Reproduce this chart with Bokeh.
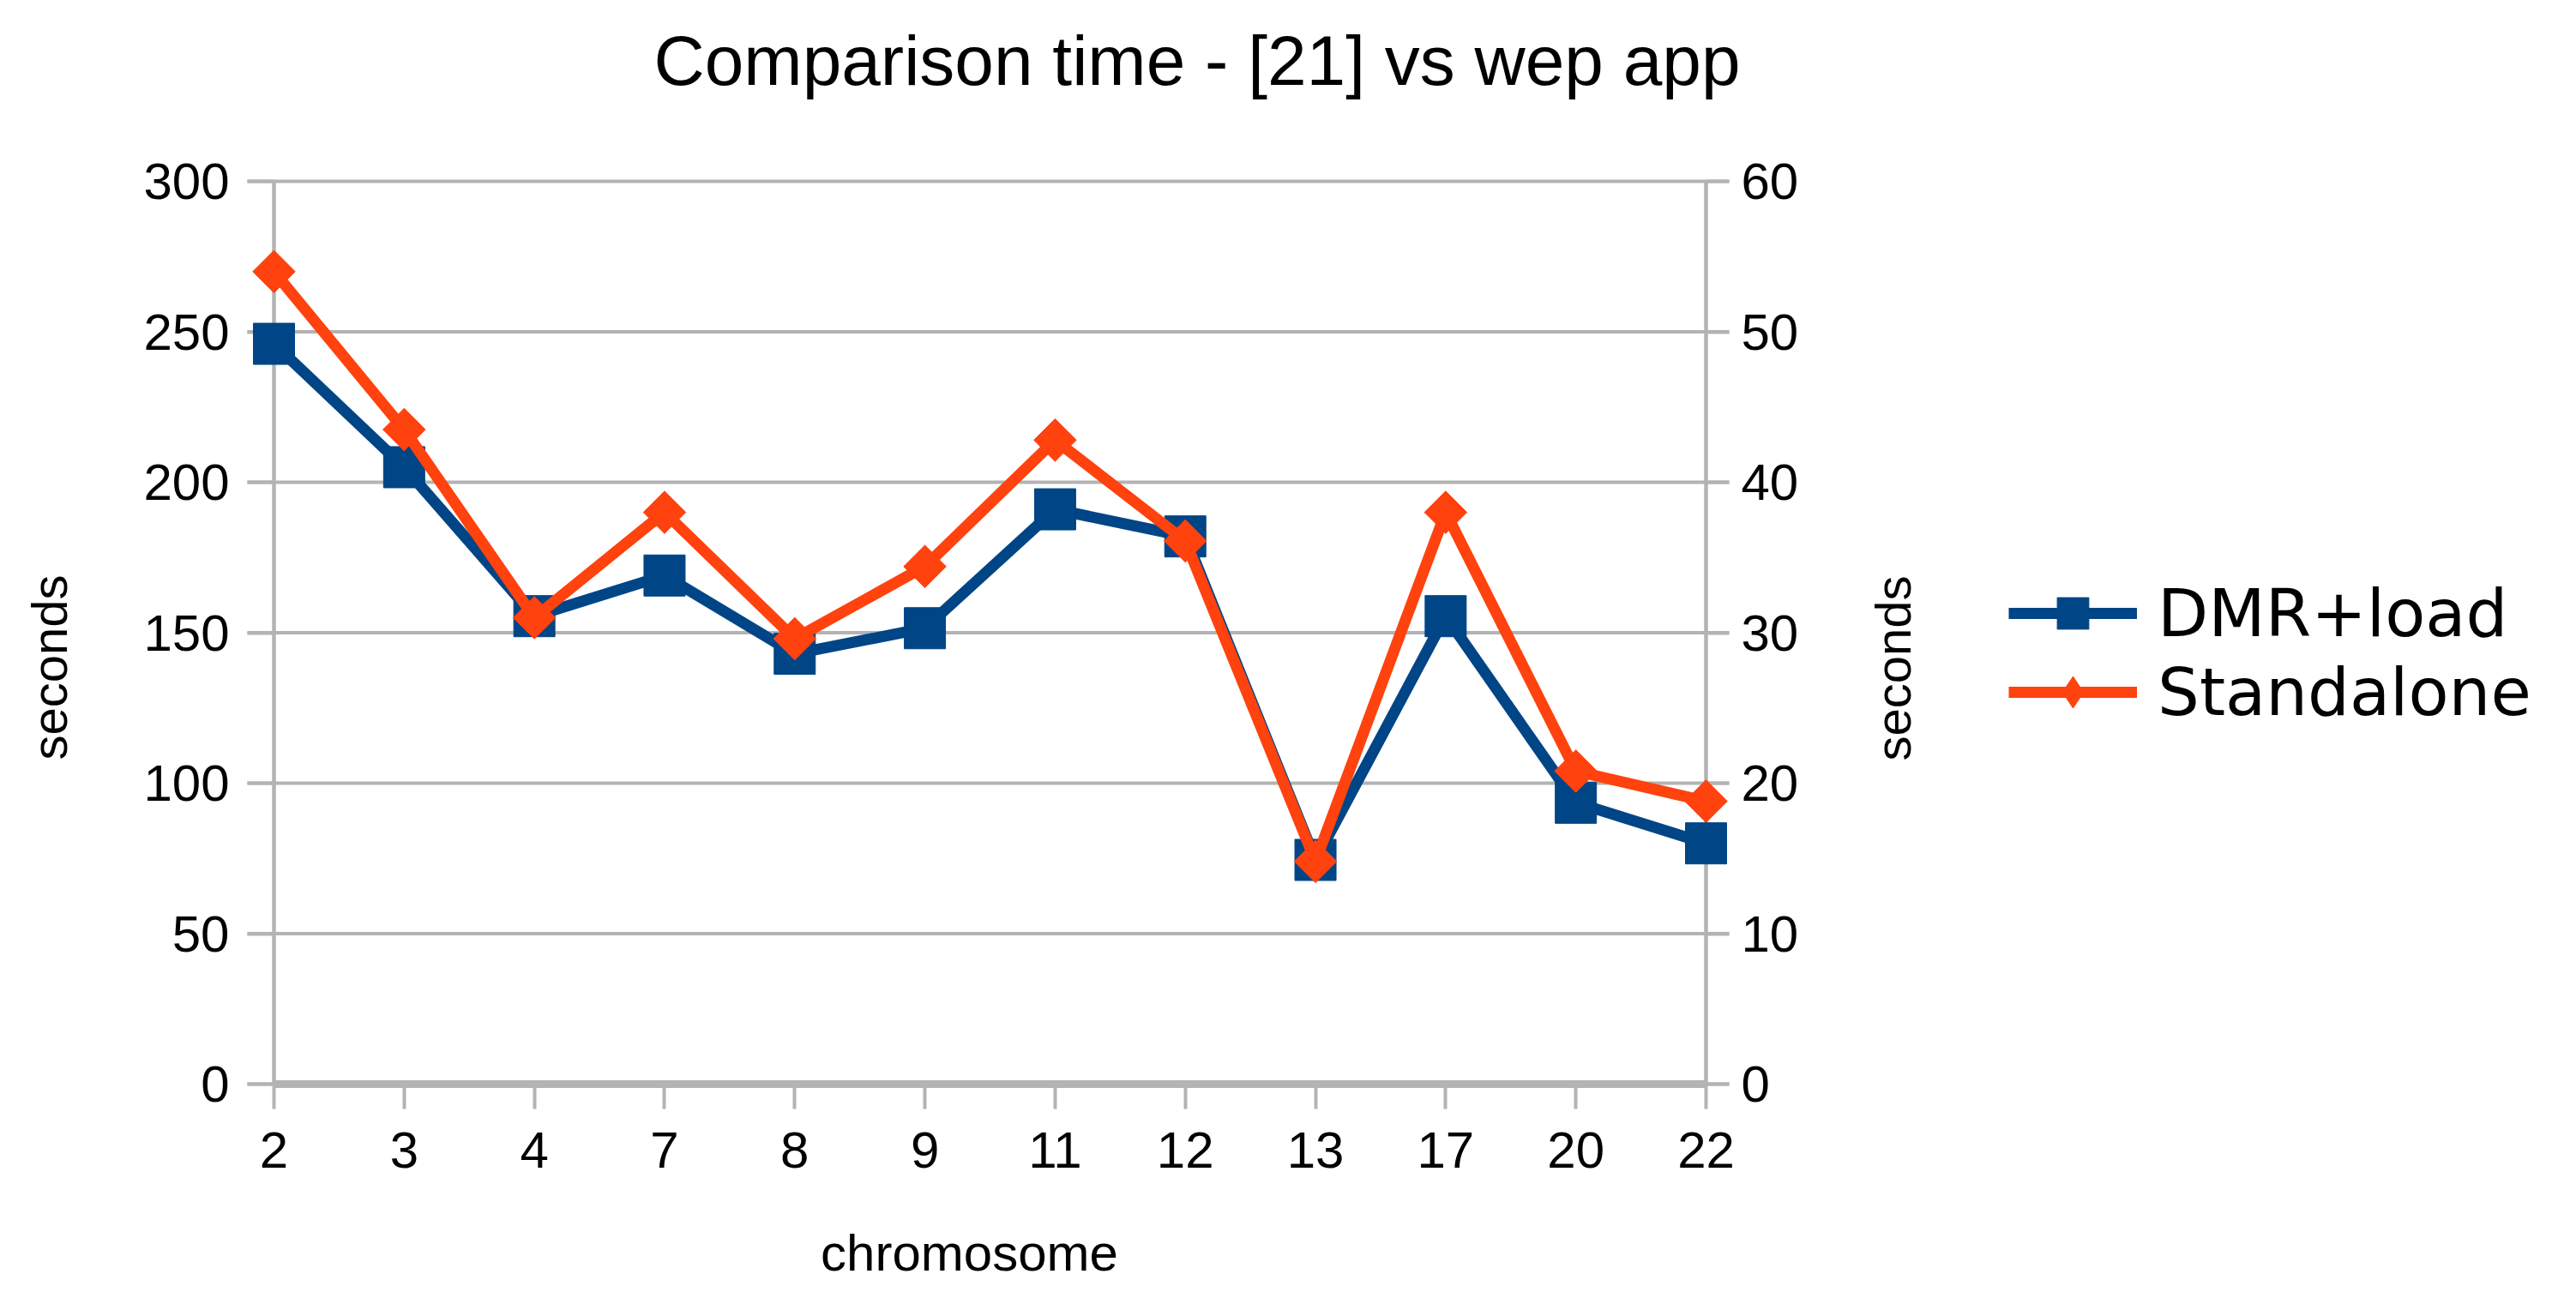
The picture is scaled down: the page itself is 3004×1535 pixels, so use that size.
import math
from bokeh.plotting import figure
from bokeh.models import (Range1d, LinearAxis, FixedTicker, Legend, LegendItem, Label)
from bokeh.embed import file_html
from bokeh.resources import INLINE

# ---- data ----
chromosomes = ["2", "3", "4", "7", "8", "9", "11", "12", "13", "17", "20", "22"]
dmr_load = [246, 205, 155.5, 169, 143, 151.5, 191, 182, 74.5, 155.5, 93.5, 80]
standalone = [54, 43.5, 31, 38, 29.6, 34.4, 42.8, 36.1, 14.8, 38, 20.8, 18.8]
left_ticks = [0, 50, 100, 150, 200, 250, 300]
right_ticks = [0, 10, 20, 30, 40, 50, 60]
title_text = "Comparison time - [21] vs wep app"
x_title = "chromosome"
y_title = "seconds"
series_names = ["DMR+load", "Standalone"]

BLUE = "#004586"
ORANGE = "#ff420e"
GRID = "#b3b3b3"
FONT = "Liberation Sans"

xs = list(range(len(chromosomes)))

# ---- layout (canvas pixels); the plotting area fills the whole canvas ----
W, H = 2990, 1528
AX_L, AX_R = 319, 1989          # columns of the two value axes
Y0, YTOP = 1264, 211            # rows of the 0 and 300 gridlines
TICK_L, TICK_R = 31, 27         # outside tick lengths
px_per_x = (AX_R - AX_L) / (xs[-1] - xs[0])
px_per_y = (Y0 - YTOP) / (left_ticks[-1] - left_ticks[0])
ratio = (right_ticks[-1] - right_ticks[0]) / (left_ticks[-1] - left_ticks[0])

x_lo = xs[0] - AX_L / px_per_x
x_hi = xs[-1] + (W - AX_R) / px_per_x
y_lo = left_ticks[0] - (H - Y0) / px_per_y
y_hi = left_ticks[-1] + YTOP / px_per_y

p = figure(width=W, height=H, output_backend="svg", toolbar_location=None, title=None,
           x_range=Range1d(x_lo, x_hi), y_range=Range1d(y_lo, y_hi),
           min_border_left=0, min_border_right=0, min_border_top=0, min_border_bottom=0,
           background_fill_color="white", border_fill_color="white",
           outline_line_color=None)
p.xaxis.visible = False
p.yaxis.visible = False
p.xgrid.visible = False
p.ygrid.visible = False
p.extra_y_ranges = {"right": Range1d(y_lo * ratio, y_hi * ratio)}

def style_axis(ax, width):
    ax.axis_line_color = GRID
    ax.axis_line_width = width
    ax.major_tick_line_color = GRID
    ax.major_tick_line_width = 4
    ax.minor_tick_line_color = None
    ax.major_tick_in = 0
    ax.major_label_text_font = FONT
    ax.major_label_text_font_size = "60px"
    ax.major_label_text_color = "black"
    ax.level = "underlay"

# horizontal gridlines between the outer tick ends
p.segment(x0=[xs[0] - TICK_L / px_per_x] * len(left_ticks),
          x1=[xs[-1] + TICK_R / px_per_x] * len(left_ticks),
          y0=left_ticks, y1=left_ticks, line_color=GRID, line_width=4)

xaxis = LinearAxis(ticker=FixedTicker(ticks=xs), bounds=(xs[0], xs[-1]),
                   fixed_location=left_ticks[0],
                   major_label_overrides={i: c for i, c in zip(xs, chromosomes)})
style_axis(xaxis, 9)
xaxis.major_tick_out = 29
xaxis.major_label_standoff = 27
p.add_layout(xaxis, "below")

yleft = LinearAxis(ticker=FixedTicker(ticks=left_ticks), bounds=(left_ticks[0], left_ticks[-1]),
                   fixed_location=xs[0])
style_axis(yleft, 4.5)
yleft.major_tick_out = TICK_L
yleft.major_label_standoff = 21
p.add_layout(yleft, "left")

yright = LinearAxis(y_range_name="right", ticker=FixedTicker(ticks=right_ticks),
                    bounds=(right_ticks[0], right_ticks[-1]), fixed_location=xs[-1])
style_axis(yright, 4.5)
yright.major_tick_out = TICK_R
yright.major_label_standoff = 14
p.add_layout(yright, "right")

# ---- series ----
l1 = p.line(xs, dmr_load, line_color=BLUE, line_width=13, line_join="miter")
m1 = p.scatter(xs, dmr_load, marker="square", size=48, fill_color=BLUE, line_color=BLUE)
l2 = p.line(xs, standalone, y_range_name="right", line_color=ORANGE, line_width=13,
            line_join="miter")
m2 = p.scatter(xs, standalone, y_range_name="right", marker="square", angle=math.pi / 4,
               size=35, fill_color=ORANGE, line_color=ORANGE)
m2d = p.scatter(xs, standalone, y_range_name="right", marker="diamond",
                size=49, fill_color=ORANGE, line_color=ORANGE)

# ---- legend (location = bottom-left corner, from the canvas bottom) ----
legend = Legend(items=[LegendItem(label=series_names[0], renderers=[l1, m1]),
                       LegendItem(label=series_names[1], renderers=[l2, m2d])],
                location=(2342, H - 853), orientation="vertical",
                glyph_width=150, glyph_height=92, label_height=92, spacing=0,
                label_standoff=24, padding=0, margin=0,
                border_line_alpha=0, background_fill_alpha=0,
                label_text_font="DejaVu Sans", label_text_font_size="77px",
                label_text_color="black")
p.add_layout(legend, "center")

# ---- texts (screen units: x from the left, y up from the bottom) ----
def text(t, x, y, size, angle=0.0, align="center"):
    p.add_layout(Label(x=x, y=H - y, x_units="screen", y_units="screen", text=t,
                       angle=angle, text_align=align, text_baseline="alphabetic",
                       text_font=FONT, text_font_size=size, text_color="black"))

text(title_text, 762, 70, "82px", align="left")
text(x_title, 1130, 1461, "60px")
text(y_title, 57, 778, "58px", angle=math.pi / 2)
text(y_title, 2207, 779, "58px", angle=math.pi / 2)

open("out.html", "w").write(file_html(p, INLINE))
